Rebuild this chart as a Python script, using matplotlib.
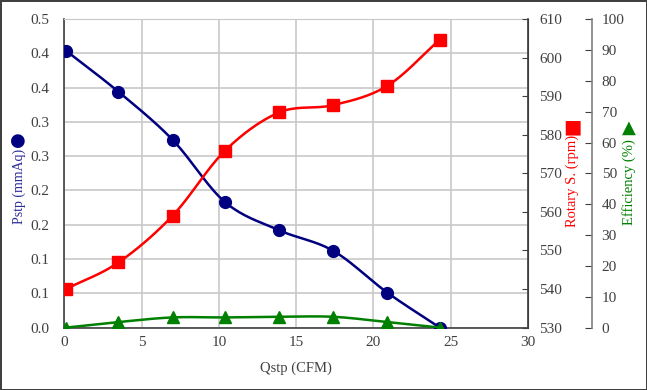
import numpy as np
import matplotlib
matplotlib.use('Agg')
import matplotlib.pyplot as plt

# data
qstp = [0.1, 3.5, 7.0, 10.4, 13.9, 17.4, 20.9, 24.3]
pstp = [0.404, 0.344, 0.274, 0.183, 0.142, 0.112, 0.051, 0.0]
rpm = [540.0, 546.9, 559.0, 575.9, 585.8, 587.7, 592.7, 604.7]
eff = [0.0, 1.8, 3.3, 3.3, 3.5, 3.5, 1.8, 0.0]

x_ticks = [0, 5, 10, 15, 20, 25, 30]
p_ticks = [0.0, 0.05, 0.10, 0.15, 0.20, 0.25, 0.30, 0.35, 0.40, 0.45]
rpm_ticks = [530, 540, 550, 560, 570, 580, 590, 600, 610]
eff_ticks = [0, 10, 20, 30, 40, 50, 60, 70, 80, 90, 100]

SERIF = ['Liberation Serif', 'DejaVu Sans']
plt.rcParams['font.family'] = SERIF
TXT = '#404040'


# 平滑曲线 (Catmull-Rom, like Excel smoothed lines)
def smooth(xs, ys, n=20):
    xs = np.asarray(xs, float)
    ys = np.asarray(ys, float)
    px = np.concatenate([[2 * xs[0] - xs[1]], xs, [2 * xs[-1] - xs[-2]]])
    py = np.concatenate([[2 * ys[0] - ys[1]], ys, [2 * ys[-1] - ys[-2]]])
    outx, outy = [], []
    t = np.linspace(0, 1, n)
    for i in range(1, len(px) - 2):
        for arr, out in ((px, outx), (py, outy)):
            p0, p1, p2, p3 = arr[i - 1], arr[i], arr[i + 1], arr[i + 2]
            seg = 0.5 * ((2 * p1) + (-p0 + p2) * t
                         + (2 * p0 - 5 * p1 + 4 * p2 - p3) * t ** 2
                         + (-p0 + 3 * p1 - 3 * p2 + p3) * t ** 3)
            out.extend(seg)
    return outx, outy


fig = plt.figure(figsize=(6.47, 3.9), dpi=100)
fig.patch.set_edgecolor('#404040')
fig.patch.set_linewidth(2)
ax = fig.add_axes([0.0995, 0.16, 0.7165, 0.791])

ax.set_xlim(0, 30)
ax.set_ylim(0, 0.45)
ax.set_xticks(x_ticks)
ax.set_yticks(p_ticks)
ax.set_yticklabels(['%.1f' % (v + 1e-9) for v in p_ticks])
ax.grid(True, color='#c8c8c8', linewidth=1.2)
ax.set_axisbelow(True)
ax.tick_params(length=0, labelsize=11, colors=TXT, pad=11)
ax.tick_params(axis='x', pad=6)
for s in ['left', 'bottom', 'right']:
    ax.spines[s].set_color('#404040')
    ax.spines[s].set_linewidth(1.2)
ax.spines['top'].set_color('#c8c8c8')

ax2 = ax.twinx()
ax2.set_ylim(530, 610)
ax2.set_yticks(rpm_ticks)
ax2.tick_params(direction='in', length=4, labelsize=11, colors=TXT, pad=8)
ax2.spines['right'].set_color('#404040')
for s in ['left', 'top', 'bottom']:
    ax2.spines[s].set_visible(False)

ax3 = ax.twinx()
ax3.set_ylim(0, 100)
ax3.set_yticks(eff_ticks)
ax3.spines['right'].set_position(('axes', 1.138))
ax3.spines['right'].set_color('#808080')
ax3.spines['right'].set_linewidth(1.2)
ax3.tick_params(direction='in', length=5, labelsize=11, colors=TXT, pad=7)
for s in ['left', 'top', 'bottom']:
    ax3.spines[s].set_visible(False)

sx, sy = smooth(qstp, pstp)
ax.plot(sx, sy, color='#000080', lw=1.8, zorder=3)
ax.plot(qstp, pstp, 'o', color='#000080', ms=8.5, zorder=4)

sx, sy = smooth(qstp, rpm)
ax2.plot(sx, sy, color='#ff0000', lw=1.8, zorder=3)
ax2.plot(qstp, rpm, 's', color='#ff0000', ms=8, zorder=4)

sx, sy = smooth(qstp, eff)
ax3.plot(sx, sy, color='#008000', lw=1.8, zorder=3)
ax3.plot(qstp, eff, '^', color='#008000', ms=8, zorder=4)

ax.set_xlabel('Qstp (CFM)', fontsize=10.5, color=TXT, labelpad=9)

# axis titles with their marker glyphs
fig.text(0.029, 0.523, 'Pstp (mmAq)', rotation=90, ha='center', va='center',
         fontsize=10, color='#2b2b9b')
fig.text(0.028, 0.638, '●', ha='center', va='center', fontsize=13,
         color='#000080', family='DejaVu Sans')
fig.text(0.885, 0.535, 'Rotary S. (rpm)', rotation=90, ha='center', va='center',
         fontsize=10.5, color='#ff0000')
fig.text(0.884, 0.674, '■', ha='center', va='center', fontsize=14,
         color='#ff0000', family='DejaVu Sans')
fig.text(0.972, 0.533, 'Efficiency (%)', rotation=90, ha='center', va='center',
         fontsize=10.5, color='#008000')
fig.text(0.972, 0.672, '▲', ha='center', va='center', fontsize=13,
         color='#008000', family='DejaVu Sans')

fig.savefig('out.png', dpi=100)
